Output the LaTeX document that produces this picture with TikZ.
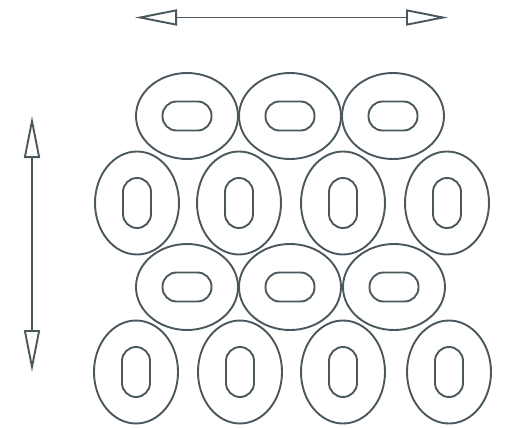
\documentclass[tikz,border=0pt]{standalone}
\usetikzlibrary{shapes.geometric, arrows.meta}
\definecolor{ink}{HTML}{4A585E}

\begin{document}
\begin{tikzpicture}[x=1pt, y=-1pt, line width=1.9pt, ink,
    hring/.style={draw, shape=ellipse, inner sep=0pt, minimum width=102pt, minimum height=86pt},
    vring/.style={draw, shape=ellipse, inner sep=0pt, minimum width=84pt, minimum height=103pt},
    hhole/.style={draw, shape=rectangle, rounded corners=14pt, inner sep=0pt, minimum width=49pt, minimum height=29pt},
    vhole/.style={draw, shape=rectangle, rounded corners=14pt, inner sep=0pt, minimum width=28pt, minimum height=50pt},
    twoway/.style={{Triangle[open, length=42pt, width=16pt]}-{Triangle[open, length=42pt, width=16pt]}}]
    \useasboundingbox (0,0) rectangle (511,428);

    % direction arrows
    \coordinate (xl) at (135,17.5);
    \coordinate (xr) at (448,17.5);
    \coordinate (yt) at (32,116);
    \coordinate (yb) at (32,372);
    \draw [twoway] (yt) -- (yb);
    \draw [twoway] (xr) -- (xl);

    % row 1
    \node (a1) [hring] at (187,116) {};
    \node (a2) [hring] at (290,116) {};
    \node (a3) [hring] at (393,116) {};
    \node (a1h) [hhole] at (a1.center) {};
    \node (a2h) [hhole] at (a2.center) {};
    \node (a3h) [hhole] at (a3.center) {};

    % row 2
    \node (b1) [vring] at (137,203) {};
    \node (b2) [vring] at (239,203) {};
    \node (b3) [vring] at (343,203) {};
    \node (b4) [vring] at (447,203) {};
    \node (b1h) [vhole] at (b1.center) {};
    \node (b2h) [vhole] at (b2.center) {};
    \node (b3h) [vhole] at (b3.center) {};
    \node (b4h) [vhole] at (b4.center) {};

    % row 3
    \node (c1) [hring] at (187,287) {};
    \node (c2) [hring] at (290,287) {};
    \node (c3) [hring] at (394,287) {};
    \node (c1h) [hhole] at (c1.center) {};
    \node (c2h) [hhole] at (c2.center) {};
    \node (c3h) [hhole] at (c3.center) {};

    % row 4
    \node (d1) [vring] at (136,372) {};
    \node (d2) [vring] at (240,372) {};
    \node (d3) [vring] at (343,372) {};
    \node (d4) [vring] at (449,372) {};
    \node (d1h) [vhole] at (d1.center) {};
    \node (d2h) [vhole] at (d2.center) {};
    \node (d3h) [vhole] at (d3.center) {};
    \node (d4h) [vhole] at (d4.center) {};
  \end{tikzpicture}
\end{document}
